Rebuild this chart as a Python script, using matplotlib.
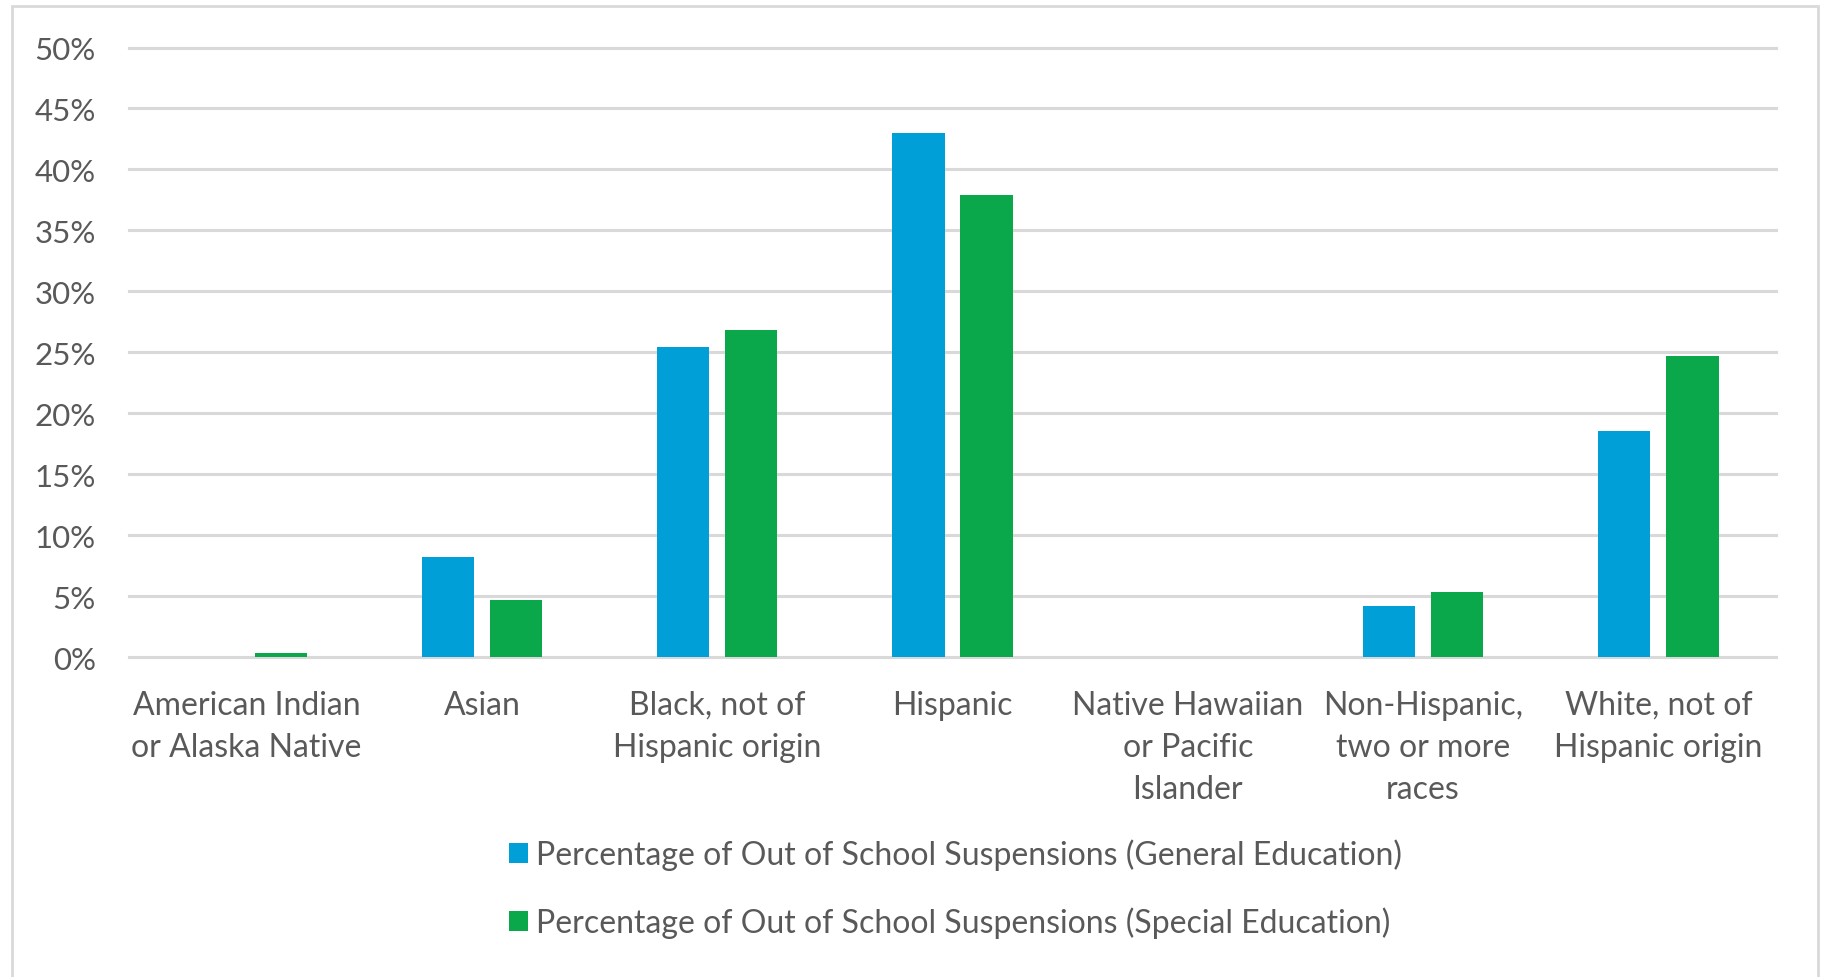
import matplotlib
matplotlib.use("Agg")
import matplotlib.pyplot as plt
import numpy as np
from matplotlib.patches import Rectangle, Patch

categories = [
    "American Indian\nor Alaska Native",
    "Asian",
    "Black, not of\nHispanic origin",
    "Hispanic",
    "Native Hawaiian\nor Pacific\nIslander",
    "Non-Hispanic,\ntwo or more\nraces",
    "White, not of\nHispanic origin",
]
general_ed = [0.0, 8.2, 25.4, 43.0, 0.0, 4.2, 18.5]
special_ed = [0.3, 4.7, 26.8, 37.9, 0.0, 5.3, 24.7]
series_names = [
    "Percentage of Out of School Suspensions (General Education)",
    "Percentage of Out of School Suspensions (Special Education)",
]
yticks = [0, 5, 10, 15, 20, 25, 30, 35, 40, 45, 50]

BLUE = "#009FD8"
GREEN = "#0AA84B"
TEXT = "#595959"
GRID = "#D9D9D9"

plt.rcParams["font.family"] = ["Lato", "DejaVu Sans"]

W, H = 1823, 978
fig = plt.figure(figsize=(W / 100, H / 100), dpi=100)
fig.patch.set_facecolor("white")

ax = fig.add_axes([129 / W, 1 - 658 / H, (1776 - 129) / W, (658 - 48.5) / H])
x = np.arange(len(categories))
bw = 0.222
off = 0.145
ax.bar(x - off, general_ed, width=bw, color=BLUE, zorder=3)
ax.bar(x + off, special_ed, width=bw, color=GREEN, zorder=3)

ax.set_xlim(-0.5, len(categories) - 0.5)
ax.set_ylim(0, 50)
ax.set_yticks(yticks)
ax.set_yticklabels([f"{v}%" for v in yticks])
for v in yticks:
    ax.axhline(v, color=GRID, lw=2.2, zorder=1, clip_on=False)
ax.set_xticks(x)
ax.set_xticklabels(categories, linespacing=1.5, va="top")
for s in ax.spines.values():
    s.set_visible(False)
ax.tick_params(axis="both", length=0, colors=TEXT)
ax.tick_params(axis="y", pad=24, labelsize=22.5)
ax.tick_params(axis="x", pad=23.5, labelsize=23)

handles = [Patch(facecolor=BLUE), Patch(facecolor=GREEN)]
leg = fig.legend(handles, series_names, loc="center left",
                 bbox_to_anchor=(509 / W, 1 - 889.5 / H), frameon=False,
                 fontsize=23, labelcolor=TEXT, handlelength=0.6,
                 handleheight=0.6, handletextpad=0.25, labelspacing=1.15,
                 borderpad=0, borderaxespad=0)

fig.patches.append(Rectangle((12 / W, -0.05), (1818 - 12) / W, 1.05 - 7 / H,
                             transform=fig.transFigure, fill=False,
                             edgecolor=GRID, lw=2, zorder=0))

fig.savefig("out.png", dpi=100)
